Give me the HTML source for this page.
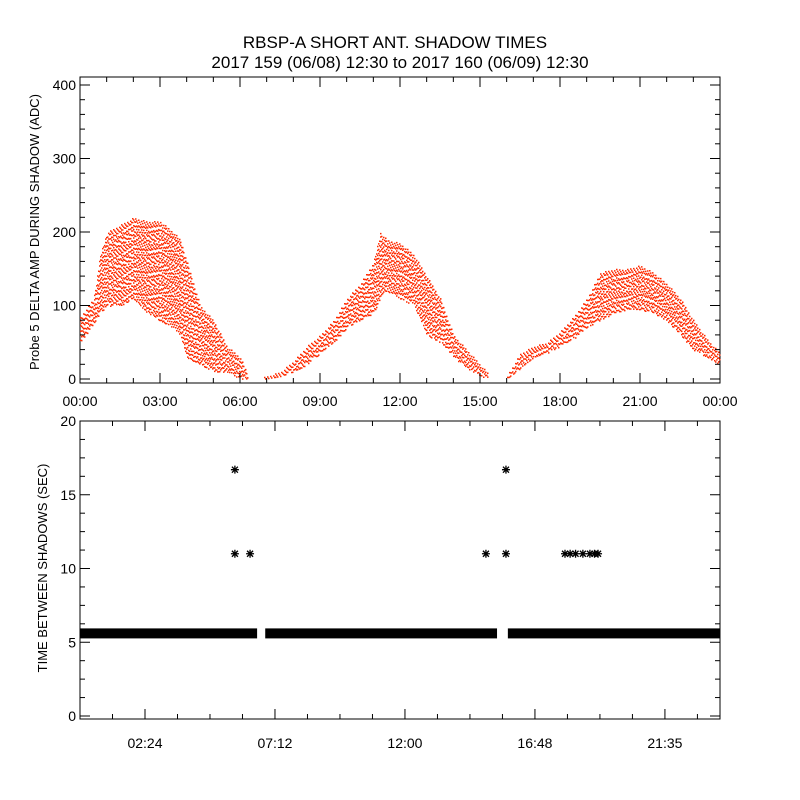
<!DOCTYPE html>
<html><head><meta charset="utf-8"><style>
body{margin:0;background:#fff;}
svg{display:block;font-family:"Liberation Sans",sans-serif;}
</style></head><body>
<svg id="c" width="800" height="800">
<rect width="800" height="800" fill="#fff"/>
<text x="395" y="48" font-size="17" text-anchor="middle">RBSP-A SHORT ANT. SHADOW TIMES</text>
<text x="400" y="68" font-size="17" text-anchor="middle">2017 159 (06/08) 12:30 to 2017 160 (06/09) 12:30</text>
<text transform="translate(39,232) rotate(-90)" font-size="13" text-anchor="middle">Probe 5 DELTA AMP DURING SHADOW (ADC)</text>
<text transform="translate(47,568) rotate(-90)" font-size="13" text-anchor="middle">TIME BETWEEN SHADOWS (SEC)</text>
<g id="topPanel"></g><g id="botPanel"></g>
</svg>
<script>
// Top panel envelope data (hours, min, max ADC)
const envHours=[0,0.5,0.75,1,1.5,2,2.5,3,3.5,3.75,4,4.5,5,5.5,6,6.3,null,6.9,7.5,8,8.5,9,9.5,10,10.5,11,11.25,11.5,12,12.5,13,13.5,14,14.5,15,15.3,null,16,16.5,17,17.5,18,18.5,19,19.5,20,20.5,21,21.5,22,22.5,23,23.5,24];
const envMin=[50,75,90,100,100,110,90,80,70,60,30,20,10,10,0,0,null,0,3,10,20,35,50,70,80,90,110,120,110,100,60,50,30,15,5,0,null,0,15,30,35,45,55,70,80,90,95,95,90,80,60,40,30,20];
const envMax=[85,110,170,200,210,220,215,215,200,190,160,100,80,45,30,5,null,3,10,25,45,60,80,110,130,160,200,190,185,170,140,110,60,40,20,8,null,5,35,45,50,65,85,110,145,150,150,155,145,130,110,80,55,35];
const topYTicks=[0,100,200,300,400];
const topXTickLabels=["00:00","03:00","06:00","09:00","12:00","15:00","18:00","21:00","00:00"];
// Bottom panel data
const bandStart=[0,6.84,15.8];
const bandEnd=[6.54,15.4,23.63];
const bandValue=[5.6,5.6,5.6];
const outHours=[5.72,5.72,6.28,14.99,15.73,15.73,17.91,18.1,18.3,18.57,18.83,19.0,19.13];
const outValues=[16.7,11.0,11.0,11.0,16.7,11.0,11.0,11.0,11.0,11.0,11.0,11.0,11.0];
const botYTicks=[0,5,10,15,20];
const botXTickLabels=["02:24","07:12","12:00","16:48","21:35"];

const NS="http://www.w3.org/2000/svg";
function mk(p,t,a){const e=document.createElementNS(NS,t);for(const k in a)e.setAttribute(k,a[k]);p.appendChild(e);return e;}
const gTop=document.getElementById('topPanel'),gBot=document.getElementById('botPanel');
const tx=h=>80+h*640/24, ty=v=>379-v*0.735;
let f=mk(gTop,'rect',{x:80,y:77,width:640,height:306,fill:'none',stroke:'#000','stroke-width':1});


let pts="";
for(let i=0;i<envHours.length-1;i++){
  if(envHours[i]===null||envHours[i+1]===null)continue;
  const x0=tx(envHours[i]),x1=tx(envHours[i+1]);
  for(let x=Math.ceil(x0);x<x1;x+=1){
    const t=(x-x0)/(x1-x0);
    const lo=envMin[i]+(envMin[i+1]-envMin[i])*t, hi=envMax[i]+(envMax[i+1]-envMax[i])*t;
    const y0=ty(hi),y1=ty(lo);
    const off=(x*37)%11/2.2;
    let k=0;
    for(let y=y0+off;y<=y1;y+=3.3+((x*13+k*7)%5)*0.6,k++){pts+=`M${x} ${y.toFixed(1)}h1.5v1.5h-1.5z`;}
  }
}
let dp=mk(gTop,'path',{d:pts,fill:'#ff2a00'});


topYTicks.forEach(v=>{
  const y=ty(v);
  mk(gTop,'line',{x1:80,x2:90,y1:y,y2:y,stroke:'#000'});
  mk(gTop,'line',{x1:710,x2:720,y1:y,y2:y,stroke:'#000'});
  const t=mk(gTop,'text',{x:76,y:y+5,'font-size':14,'text-anchor':'end'});t.textContent=v;
  
  
});
for(let v=20;v<410;v+=20){if(v%100==0)continue;const y=ty(v);
  mk(gTop,'line',{x1:80,x2:85,y1:y,y2:y,stroke:'#000'});mk(gTop,'line',{x1:715,x2:720,y1:y,y2:y,stroke:'#000'});}
topXTickLabels.forEach((s,i)=>{
  const x=tx(i*3);
  mk(gTop,'line',{x1:x,x2:x,y1:383,y2:373,stroke:'#000'});mk(gTop,'line',{x1:x,x2:x,y1:77,y2:87,stroke:'#000'});
  const t=mk(gTop,'text',{x:x,y:406,'font-size':14,'text-anchor':'middle'});t.textContent=s;
  
  
});
for(let h=1;h<24;h++){if(h%3==0)continue;const x=tx(h);
  mk(gTop,'line',{x1:x,x2:x,y1:383,y2:378,stroke:'#000'});mk(gTop,'line',{x1:x,x2:x,y1:77,y2:82,stroke:'#000'});}
const bx=h=>80+h*27.08, by=v=>716-v*14.75;
let f2=mk(gBot,'rect',{x:80,y:421,width:640,height:298,fill:'none',stroke:'#000'});


botYTicks.forEach(v=>{
  const y=by(v);
  mk(gBot,'line',{x1:80,x2:90,y1:y,y2:y,stroke:'#000'});mk(gBot,'line',{x1:710,x2:720,y1:y,y2:y,stroke:'#000'});
  const t=mk(gBot,'text',{x:76,y:y+5,'font-size':14,'text-anchor':'end'});t.textContent=v;
  
  
});
for(let v=1.25;v<20;v+=1.25){if(v%5==0)continue;const y=by(v);
  mk(gBot,'line',{x1:80,x2:85,y1:y,y2:y,stroke:'#000'});mk(gBot,'line',{x1:715,x2:720,y1:y,y2:y,stroke:'#000'});}
for(let k=1;k<20;k++){const x=bx(k*1.2);if(x>719)break;const big=k%4==2;
  mk(gBot,'line',{x1:x,x2:x,y1:719,y2:big?709:714,stroke:'#000'});mk(gBot,'line',{x1:x,x2:x,y1:421,y2:big?431:426,stroke:'#000'});}
botXTickLabels.forEach((s,i)=>{
  const x=bx(2.4+i*4.8);
  const t=mk(gBot,'text',{x:x,y:748,'font-size':14,'text-anchor':'middle'});t.textContent=s;
  
  
});
bandStart.forEach((s,i)=>{
  const x0=bx(s),x1=Math.min(bx(bandEnd[i]),720),y=by(bandValue[i]);
  const r=mk(gBot,'rect',{x:x0,y:y-5,width:x1-x0,height:10,fill:'#000'});
  
  
});
outHours.forEach((h,i)=>{
  const x=bx(h),y=by(outValues[i]);
  const g=mk(gBot,'path',{d:`M${x-4} ${y}h8M${x} ${y-4}v8M${x-3} ${y-3}l6 6M${x-3} ${y+3}l6 -6`,stroke:'#000','stroke-width':1.3});
  
  
});
</script>
</body></html>
